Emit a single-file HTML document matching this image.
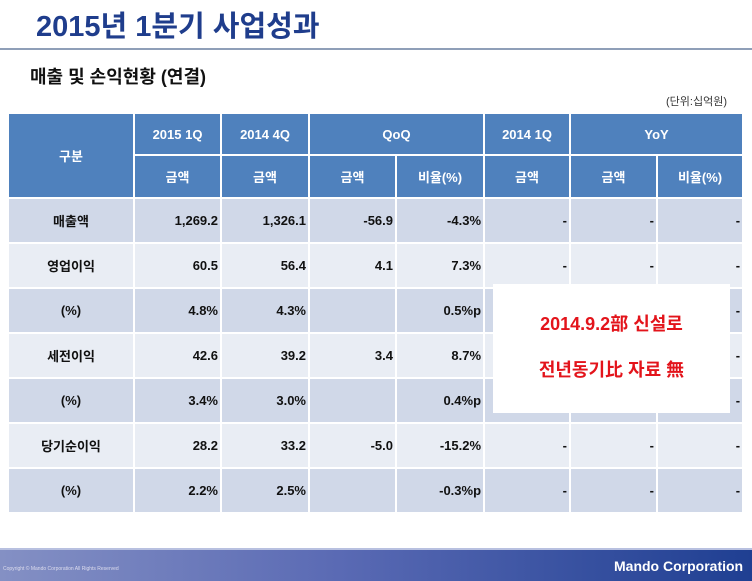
<!DOCTYPE html>
<html><head><meta charset="utf-8"><style>
body{margin:0;width:752px;height:581px;position:relative;overflow:hidden;background:#fff;font-family:"Liberation Sans","Noto Sans CJK KR",sans-serif;}
.t{position:absolute;white-space:nowrap}
table{position:absolute;left:7px;top:112px;border-collapse:collapse;table-layout:fixed;width:735px}
td{border:2px solid #fff;font-size:13px;font-weight:bold;padding:0 2px;color:#111}
.h td{background:#4f81bd;color:#fff;text-align:center;height:40px}
.r td{text-align:right;height:43px}
.r td:first-child{text-align:center;font-weight:bold}
.a td{background:#d0d8e8}.b td{background:#e9edf4}
</style></head><body>
<div class="t" style="left:36px;top:3px;font-size:29px;font-weight:bold;color:#1f3d8c">2015년 1분기 사업성과</div>
<div style="position:absolute;left:0;top:48px;width:752px;height:2px;background:#8f9fb8"></div>
<div class="t" style="left:30px;top:63px;font-size:18px;font-weight:bold;color:#111">매출 및 손익현황 (연결)</div>
<div class="t" style="left:666px;top:93px;font-size:11px;color:#333">(단위:십억원)</div>
<table>
<colgroup><col style="width:126px"><col style="width:87px"><col style="width:88px"><col style="width:87px"><col style="width:88px"><col style="width:86px"><col style="width:87px"><col style="width:86px"></colgroup>
<tr class="h"><td rowspan="2">구분</td><td>2015 1Q</td><td>2014 4Q</td><td colspan="2">QoQ</td><td>2014 1Q</td><td colspan="2">YoY</td></tr>
<tr class="h"><td style="height:41px">금액</td><td>금액</td><td>금액</td><td>비율(%)</td><td>금액</td><td>금액</td><td>비율(%)</td></tr>
<tr class="r a"><td>매출액</td><td>1,269.2</td><td>1,326.1</td><td>-56.9</td><td>-4.3%</td><td>-</td><td>-</td><td>-</td></tr>
<tr class="r b"><td>영업이익</td><td>60.5</td><td>56.4</td><td>4.1</td><td>7.3%</td><td>-</td><td>-</td><td>-</td></tr>
<tr class="r a"><td>(%)</td><td>4.8%</td><td>4.3%</td><td></td><td>0.5%p</td><td>-</td><td>-</td><td>-</td></tr>
<tr class="r b"><td>세전이익</td><td>42.6</td><td>39.2</td><td>3.4</td><td>8.7%</td><td>-</td><td>-</td><td>-</td></tr>
<tr class="r a"><td>(%)</td><td>3.4%</td><td>3.0%</td><td></td><td>0.4%p</td><td>-</td><td>-</td><td>-</td></tr>
<tr class="r b"><td>당기순이익</td><td>28.2</td><td>33.2</td><td>-5.0</td><td>-15.2%</td><td>-</td><td>-</td><td>-</td></tr>
<tr class="r a"><td>(%)</td><td>2.2%</td><td>2.5%</td><td></td><td>-0.3%p</td><td>-</td><td>-</td><td>-</td></tr>
</table>
<div style="position:absolute;left:493px;top:284px;width:237px;height:129px;background:#fff"></div>
<div class="t" style="left:493px;width:237px;top:310px;text-align:center;font-size:18px;font-weight:bold;color:#e3141b">2014.9.2部 신설로</div>
<div class="t" style="left:493px;width:237px;top:356px;text-align:center;font-size:18px;font-weight:bold;color:#e3141b">전년동기比 자료 無</div>
<div style="position:absolute;left:0;top:548px;width:752px;height:33px;background:linear-gradient(90deg,#8490c4,#5a6ab4 45%,#1f3f92)"></div>
<div style="position:absolute;left:0;top:548px;width:752px;height:2px;background:#b8c0e0"></div>
<div class="t" style="left:3px;top:566px;font-size:5px;color:#dde">Copyright © Mando Corporation All Rights Reserved</div>
<div class="t" style="left:614px;top:558px;font-size:14px;font-weight:bold;color:#fff">Mando Corporation</div>
</body></html>
